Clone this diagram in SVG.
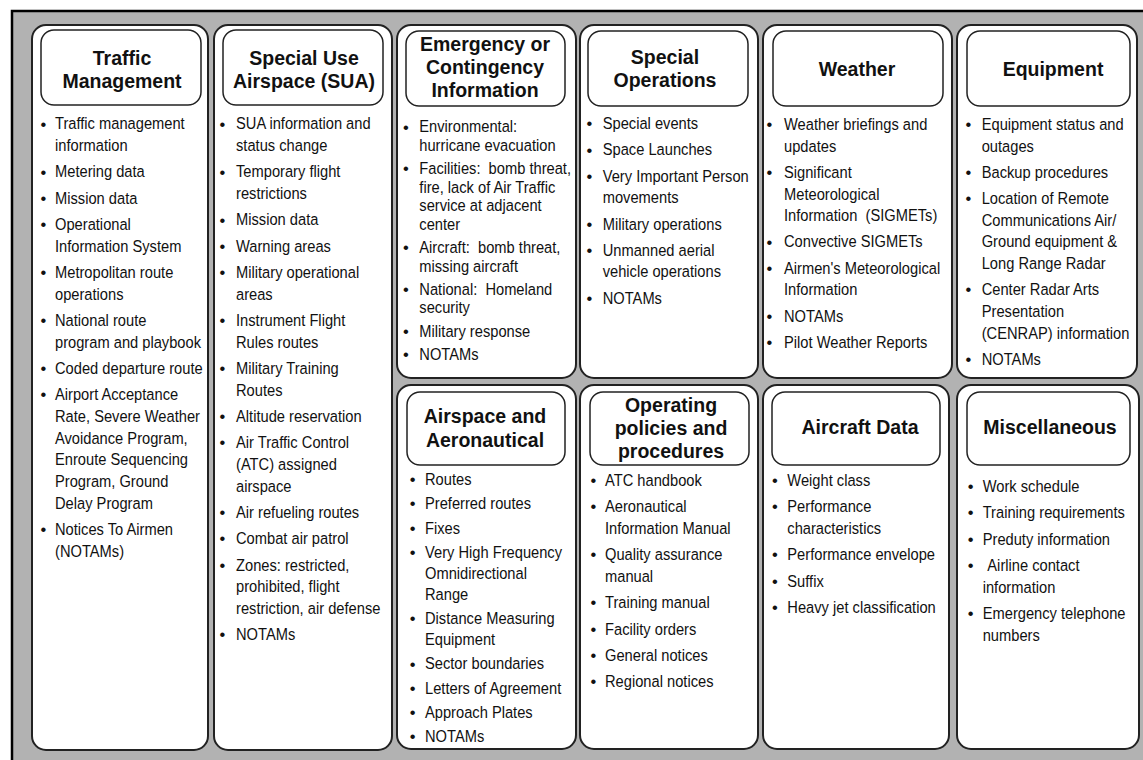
<svg xmlns="http://www.w3.org/2000/svg" width="1143" height="760" viewBox="0 0 1143 760">
<style>
.frame{fill:#b2b2b2;stroke:#000;stroke-width:2.5}
.panel{fill:#fff;stroke:#222;stroke-width:2}
.head{fill:#fff;stroke:#222;stroke-width:1.5}
.ht{font-family:"Liberation Sans",Arial,sans-serif;font-weight:bold;font-size:19.5px;text-anchor:middle;fill:#111}
.bt{font-family:"Liberation Sans",Arial,sans-serif;font-size:16.5px;fill:#111}
.bl{font-family:"Liberation Sans",Arial,sans-serif;font-size:16.5px;fill:#111;text-anchor:middle}
</style>
<rect class="frame" x="12" y="11" width="1140" height="760"/>

<g id="traffic-management">
<rect class="panel" x="32" y="25" width="176" height="725" rx="14"/>
<rect class="head" x="41" y="30" width="160" height="75" rx="13"/>
<text class="ht" x="122" y="65">Traffic</text>
<text class="ht" x="122" y="87.5">Management</text>
<g class="bl">
<text x="43.3" y="129.5">•</text><text x="43.3" y="177.5">•</text><text x="43.3" y="203.8">•</text><text x="43.3" y="230.1">•</text><text x="43.3" y="278.1">•</text><text x="43.3" y="326.1">•</text><text x="43.3" y="374.1">•</text><text x="43.3" y="400.4">•</text><text x="43.3" y="535.2">•</text>
</g>
<g class="bt" transform="translate(55 0) scale(0.89 1)">
<text x="0" y="129.5">Traffic management</text>
<text x="0" y="151.2">information</text>
<text x="0" y="177.5">Metering data</text>
<text x="0" y="203.8">Mission data</text>
<text x="0" y="230.1">Operational</text>
<text x="0" y="251.8">Information System</text>
<text x="0" y="278.1">Metropolitan route</text>
<text x="0" y="299.8">operations</text>
<text x="0" y="326.1">National route</text>
<text x="0" y="347.8">program and playbook</text>
<text x="0" y="374.1">Coded departure route</text>
<text x="0" y="400.4">Airport Acceptance</text>
<text x="0" y="422.1">Rate, Severe Weather</text>
<text x="0" y="443.8">Avoidance Program,</text>
<text x="0" y="465.5">Enroute Sequencing</text>
<text x="0" y="487.2">Program, Ground</text>
<text x="0" y="508.9">Delay Program</text>
<text x="0" y="535.2">Notices To Airmen</text>
<text x="0" y="556.9">(NOTAMs)</text>
</g>
</g>

<g id="special-use-airspace">
<rect class="panel" x="214" y="25" width="178" height="725" rx="14"/>
<rect class="head" x="223" y="30" width="160" height="75" rx="13"/>
<text class="ht" x="304" y="64.5">Special Use</text>
<text class="ht" x="304" y="87.5">Airspace (SUA)</text>
<g class="bl">
<text x="222.5" y="129.5">•</text><text x="222.5" y="177.5">•</text><text x="222.5" y="225.5">•</text><text x="222.5" y="251.8">•</text><text x="222.5" y="278.1">•</text><text x="222.5" y="326.1">•</text><text x="222.5" y="374.1">•</text><text x="222.5" y="422.1">•</text><text x="222.5" y="448.4">•</text><text x="222.5" y="518.1">•</text><text x="222.5" y="544.4">•</text><text x="222.5" y="570.7">•</text><text x="222.5" y="640.4">•</text>
</g>
<g class="bt" transform="translate(236 0) scale(0.89 1)">
<text x="0" y="129.5">SUA information and</text>
<text x="0" y="151.2">status change</text>
<text x="0" y="177.5">Temporary flight</text>
<text x="0" y="199.2">restrictions</text>
<text x="0" y="225.5">Mission data</text>
<text x="0" y="251.8">Warning areas</text>
<text x="0" y="278.1">Military operational</text>
<text x="0" y="299.8">areas</text>
<text x="0" y="326.1">Instrument Flight</text>
<text x="0" y="347.8">Rules routes</text>
<text x="0" y="374.1">Military Training</text>
<text x="0" y="395.8">Routes</text>
<text x="0" y="422.1">Altitude reservation</text>
<text x="0" y="448.4">Air Traffic Control</text>
<text x="0" y="470.1">(ATC) assigned</text>
<text x="0" y="491.8">airspace</text>
<text x="0" y="518.1">Air refueling routes</text>
<text x="0" y="544.4">Combat air patrol</text>
<text x="0" y="570.7">Zones: restricted,</text>
<text x="0" y="592.4">prohibited, flight</text>
<text x="0" y="614.1">restriction, air defense</text>
<text x="0" y="640.4">NOTAMs</text>
</g>
</g>

<g id="emergency-contingency">
<rect class="panel" x="397" y="25" width="179" height="353" rx="14"/>
<rect class="head" x="406" y="31" width="159" height="75" rx="13"/>
<text class="ht" x="485" y="50.7">Emergency or</text>
<text class="ht" x="485" y="74">Contingency</text>
<text class="ht" x="485" y="97.3">Information</text>
<g class="bl">
<text x="406" y="132.5">•</text><text x="406" y="174.3">•</text><text x="406" y="253.1">•</text><text x="406" y="294.9">•</text><text x="406" y="336.7">•</text><text x="406" y="360">•</text>
</g>
<g class="bt" transform="translate(419.3 0) scale(0.89 1)">
<text x="0" y="132.5">Environmental:</text>
<text x="0" y="151">hurricane evacuation</text>
<text x="0" y="174.3" xml:space="preserve">Facilities:  bomb threat,</text>
<text x="0" y="192.8">fire, lack of Air Traffic</text>
<text x="0" y="211.3">service at adjacent</text>
<text x="0" y="229.8">center</text>
<text x="0" y="253.1" xml:space="preserve">Aircraft:  bomb threat,</text>
<text x="0" y="271.6">missing aircraft</text>
<text x="0" y="294.9" xml:space="preserve">National:  Homeland</text>
<text x="0" y="313.4">security</text>
<text x="0" y="336.7">Military response</text>
<text x="0" y="360">NOTAMs</text>
</g>
</g>

<g id="special-operations">
<rect class="panel" x="580" y="25" width="178" height="353" rx="14"/>
<rect class="head" x="588" y="31" width="160" height="75" rx="13"/>
<text class="ht" x="665" y="63.5">Special</text>
<text class="ht" x="665" y="86.5">Operations</text>
<g class="bl">
<text x="589.3" y="129.3">•</text><text x="589.3" y="155.5">•</text><text x="589.3" y="181.7">•</text><text x="589.3" y="229.6">•</text><text x="589.3" y="255.8">•</text><text x="589.3" y="303.7">•</text>
</g>
<g class="bt" transform="translate(602.7 0) scale(0.89 1)">
<text x="0" y="129.3">Special events</text>
<text x="0" y="155.5">Space Launches</text>
<text x="0" y="181.7">Very Important Person</text>
<text x="0" y="203.4">movements</text>
<text x="0" y="229.6">Military operations</text>
<text x="0" y="255.8">Unmanned aerial</text>
<text x="0" y="277.5">vehicle operations</text>
<text x="0" y="303.7">NOTAMs</text>
</g>
</g>

<g id="weather">
<rect class="panel" x="763" y="25" width="189" height="353" rx="14"/>
<rect class="head" x="773" y="31" width="170" height="75" rx="13"/>
<text class="ht" x="857" y="75.5">Weather</text>
<g class="bl">
<text x="769.3" y="130">•</text><text x="769.3" y="177.9">•</text><text x="769.3" y="247.5">•</text><text x="769.3" y="273.7">•</text><text x="769.3" y="321.6">•</text><text x="769.3" y="347.8">•</text>
</g>
<g class="bt" transform="translate(784 0) scale(0.89 1)">
<text x="0" y="130">Weather briefings and</text>
<text x="0" y="151.7">updates</text>
<text x="0" y="177.9">Significant</text>
<text x="0" y="199.6">Meteorological</text>
<text x="0" y="221.3" xml:space="preserve">Information  (SIGMETs)</text>
<text x="0" y="247.5">Convective SIGMETs</text>
<text x="0" y="273.7">Airmen's Meteorological</text>
<text x="0" y="295.4">Information</text>
<text x="0" y="321.6">NOTAMs</text>
<text x="0" y="347.8">Pilot Weather Reports</text>
</g>
</g>

<g id="equipment">
<rect class="panel" x="957" y="25" width="180" height="353" rx="14"/>
<rect class="head" x="967" y="31" width="163" height="75" rx="13"/>
<text class="ht" x="1053" y="75.5">Equipment</text>
<g class="bl">
<text x="968.3" y="130">•</text><text x="968.3" y="177.9">•</text><text x="968.3" y="204.1">•</text><text x="968.3" y="295.4">•</text><text x="968.3" y="365">•</text>
</g>
<g class="bt" transform="translate(981.7 0) scale(0.89 1)">
<text x="0" y="130">Equipment status and</text>
<text x="0" y="151.7">outages</text>
<text x="0" y="177.9">Backup procedures</text>
<text x="0" y="204.1">Location of Remote</text>
<text x="0" y="225.8">Communications Air/</text>
<text x="0" y="247.5">Ground equipment &amp;</text>
<text x="0" y="269.2">Long Range Radar</text>
<text x="0" y="295.4">Center Radar Arts</text>
<text x="0" y="317.1">Presentation</text>
<text x="0" y="338.8">(CENRAP) information</text>
<text x="0" y="365">NOTAMs</text>
</g>
</g>

<g id="airspace-aeronautical">
<rect class="panel" x="397" y="385" width="179" height="364" rx="14"/>
<rect class="head" x="407" y="392" width="158" height="73" rx="13"/>
<text class="ht" x="485" y="423.3">Airspace and</text>
<text class="ht" x="485" y="446.7">Aeronautical</text>
<g class="bl">
<text x="412.7" y="485">•</text><text x="412.7" y="509.3">•</text><text x="412.7" y="533.6">•</text><text x="412.7" y="557.9">•</text><text x="412.7" y="624.2">•</text><text x="412.7" y="669.5">•</text><text x="412.7" y="693.8">•</text><text x="412.7" y="718.1">•</text><text x="412.7" y="742.4">•</text>
</g>
<g class="bt" transform="translate(425 0) scale(0.89 1)">
<text x="0" y="485">Routes</text>
<text x="0" y="509.3">Preferred routes</text>
<text x="0" y="533.6">Fixes</text>
<text x="0" y="557.9">Very High Frequency</text>
<text x="0" y="578.9">Omnidirectional</text>
<text x="0" y="599.9">Range</text>
<text x="0" y="624.2">Distance Measuring</text>
<text x="0" y="645.2">Equipment</text>
<text x="0" y="669.5">Sector boundaries</text>
<text x="0" y="693.8">Letters of Agreement</text>
<text x="0" y="718.1">Approach Plates</text>
<text x="0" y="742.4">NOTAMs</text>
</g>
</g>

<g id="operating-policies">
<rect class="panel" x="580" y="385" width="178" height="364" rx="14"/>
<rect class="head" x="590" y="392" width="159" height="73" rx="13"/>
<text class="ht" x="671" y="411.7">Operating</text>
<text class="ht" x="671" y="435">policies and</text>
<text class="ht" x="671" y="458.3">procedures</text>
<g class="bl">
<text x="593.3" y="486">•</text><text x="593.3" y="512.3">•</text><text x="593.3" y="560.3">•</text><text x="593.3" y="608.3">•</text><text x="593.3" y="634.6">•</text><text x="593.3" y="660.9">•</text><text x="593.3" y="687.2">•</text>
</g>
<g class="bt" transform="translate(605 0) scale(0.89 1)">
<text x="0" y="486">ATC handbook</text>
<text x="0" y="512.3">Aeronautical</text>
<text x="0" y="534">Information Manual</text>
<text x="0" y="560.3">Quality assurance</text>
<text x="0" y="582">manual</text>
<text x="0" y="608.3">Training manual</text>
<text x="0" y="634.6">Facility orders</text>
<text x="0" y="660.9">General notices</text>
<text x="0" y="687.2">Regional notices</text>
</g>
</g>

<g id="aircraft-data">
<rect class="panel" x="763" y="385" width="186" height="364" rx="14"/>
<rect class="head" x="772" y="392" width="168" height="73" rx="13"/>
<text class="ht" x="860" y="434.3">Aircraft Data</text>
<g class="bl">
<text x="775" y="486">•</text><text x="775" y="512.3">•</text><text x="775" y="560.3">•</text><text x="775" y="586.6">•</text><text x="775" y="612.9">•</text>
</g>
<g class="bt" transform="translate(787.3 0) scale(0.89 1)">
<text x="0" y="486">Weight class</text>
<text x="0" y="512.3">Performance</text>
<text x="0" y="534">characteristics</text>
<text x="0" y="560.3">Performance envelope</text>
<text x="0" y="586.6">Suffix</text>
<text x="0" y="612.9">Heavy jet classification</text>
</g>
</g>

<g id="miscellaneous">
<rect class="panel" x="957" y="385" width="182" height="364" rx="14"/>
<rect class="head" x="967" y="392" width="163" height="73" rx="13"/>
<text class="ht" x="1050" y="434.3">Miscellaneous</text>
<g class="bl">
<text x="970.7" y="492">•</text><text x="970.7" y="518.3">•</text><text x="970.7" y="544.6">•</text><text x="970.7" y="570.9">•</text><text x="970.7" y="618.9">•</text>
</g>
<g class="bt" transform="translate(982.7 0) scale(0.89 1)">
<text x="0" y="492">Work schedule</text>
<text x="0" y="518.3">Training requirements</text>
<text x="0" y="544.6">Preduty information</text>
<text x="5.2" y="570.9">Airline contact</text>
<text x="0" y="592.6">information</text>
<text x="0" y="618.9">Emergency telephone</text>
<text x="0" y="640.6">numbers</text>
</g>
</g>
</svg>
